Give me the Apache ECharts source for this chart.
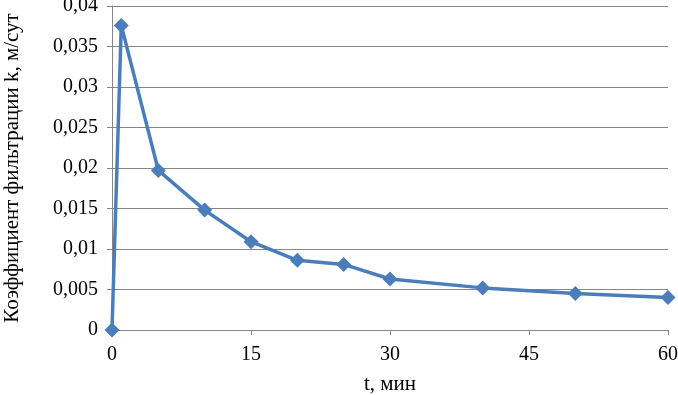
<!DOCTYPE html>
<html>
<head>
<meta charset="utf-8">
<script src="https://cdn.jsdelivr.net/npm/echarts@6/dist/echarts.min.js"></script>
<style>html,body{margin:0;padding:0;background:#fff;}#c{width:678px;height:395px;}</style>
</head>
<body>
<div id="c"></div>
<script>
const times = [0, 1, 5, 10, 15, 20, 25, 30, 40, 50, 60];
const kValues = [0, 0.0376, 0.0197, 0.0148, 0.0109, 0.0086, 0.0081, 0.0063, 0.0052, 0.0045, 0.0040];
const xTitle = 't, мин';
const yTitle = 'Коэффициент фильтрации k, м/сут';

const chart = echarts.init(document.getElementById('c'));
const font = 'Liberation Serif, Times New Roman, serif';
chart.setOption({
  animation: false,
  backgroundColor: '#fff',
  grid: { left: 112, right: 10, top: 6, bottom: 65, containLabel: false, outerBoundsMode: 'none' },
  xAxis: {
    type: 'value', min: 0, max: 60, interval: 15,
    name: xTitle, nameLocation: 'middle', nameGap: 44,
    nameTextStyle: { fontFamily: font, fontSize: 21, color: '#000' },
    axisLine: { show: true, onZero: false, lineStyle: { color: '#868686', width: 1 } },
    axisTick: { show: true, length: 5, lineStyle: { color: '#868686' } },
    axisLabel: { fontFamily: font, fontSize: 20, color: '#000', margin: 15 },
    splitLine: { show: false }
  },
  yAxis: {
    type: 'value', min: 0, max: 0.04, interval: 0.005,
    name: yTitle, nameLocation: 'middle', nameGap: 89, nameRotate: 90,
    nameTextStyle: { fontFamily: font, fontSize: 21, color: '#000' },
    axisLine: { show: true, lineStyle: { color: '#868686', width: 1 } },
    axisTick: { show: true, length: 5, lineStyle: { color: '#868686' } },
    axisLabel: { fontFamily: font, fontSize: 20, color: '#000', margin: 14,
      formatter: v => String(+v.toFixed(3)).replace('.', ',') },
    splitLine: { show: true, lineStyle: { color: '#868686', width: 1 } }
  },
  series: [{
    type: 'line',
    data: times.map((t, i) => [t, kValues[i]]),
    symbol: 'diamond', symbolSize: 15,
    lineStyle: { color: '#4a7ebb', width: 3.5 },
    itemStyle: { color: '#4a7ebb' }
  }]
});
</script>
</body>
</html>
